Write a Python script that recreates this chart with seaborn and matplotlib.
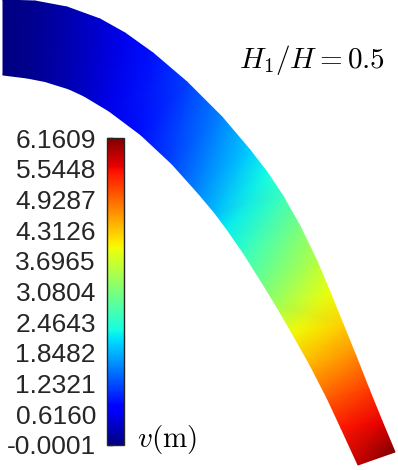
import numpy as np
import matplotlib
matplotlib.use("Agg")
import matplotlib.pyplot as plt
import seaborn as sns

# deformed curved beam, outer and inner edge nodes (plot units, y down)
outer_x = [3, 35, 67, 100, 125, 153, 187, 222, 250, 267, 283, 300, 317, 330, 343, 356, 369, 382, 395]
outer_y = [0, 1, 7, 19, 33, 53, 82, 117, 150, 172, 196, 226, 261, 292, 324, 356, 389, 421, 452]
inner_x = [3, 27, 45, 69, 84, 109, 141, 172, 198, 214, 226, 243, 261, 276, 292, 310, 327, 341, 358]
inner_y = [75, 78, 81.5, 89, 96, 111, 135, 164, 193, 212, 228, 252.5, 281, 305.5, 333, 365, 398, 428, 465]

# vertical displacement v (m) at the nodes
v_outer = [0.00, 0.10, 0.25, 0.45, 0.62, 0.88, 1.15, 1.58, 2.00, 2.30, 2.60, 3.08,
           3.50, 3.90, 4.25, 4.70, 5.20, 5.60, 6.16]
v_inner = [0.00, 0.08, 0.15, 0.28, 0.38, 0.60, 0.85, 1.20, 1.60, 1.90, 2.20, 2.55,
           2.95, 3.35, 3.95, 4.45, 5.00, 5.45, 5.80]

v_min, v_max = -0.0001, 6.1609
cbar_ticks = [-0.0001, 0.6160, 1.2321, 1.8482, 2.4643, 3.0804, 3.6965, 4.3126, 4.9287, 5.5448, 6.1609]
cbar_labels = ["-0.0001", "0.6160", "1.2321", "1.8482", "2.4643", "3.0804",
               "3.6965", "4.3126", "4.9287", "5.5448", "6.1609"]

sns.set_theme(style="white")
plt.rcParams["font.family"] = ["Liberation Sans", "DejaVu Sans"]
plt.rcParams["mathtext.fontset"] = "cm"

fig = plt.figure(figsize=(3.98, 4.70), dpi=100)
ax = fig.add_axes([0, 0, 1, 1])
ax.set_xlim(0, 398)
ax.set_ylim(470, 0)
ax.set_aspect("equal")
ax.axis("off")

X = np.array([inner_x, outer_x])
Y = np.array([inner_y, outer_y])
C = np.array([v_inner, v_outer])
mesh = ax.pcolormesh(X, Y, C, shading="gouraud", cmap="jet", vmin=v_min, vmax=v_max)

ax.text(385, 60, r"$H_1/H=0.5$", ha="right", va="center", fontsize=21, color="black")
ax.text(137, 440, r"$v(\mathrm{m})$", ha="left", va="center", fontsize=21, color="black")

# colorbar on the left side of the figure
cax = fig.add_axes([107 / 398, (470 - 445) / 470, 17 / 398, 307 / 470])
cb = fig.colorbar(mesh, cax=cax, ticks=cbar_ticks)
cb.outline.set_linewidth(1.0)
cb.outline.set_edgecolor("#262626")
cax.yaxis.set_ticks_position("left")
cax.yaxis.set_label_position("left")
cax.set_yticklabels(cbar_labels)
cax.tick_params(axis="y", direction="in", length=4, width=1, color="#262626",
                labelsize=19, labelcolor="#262626", pad=8)

plt.savefig("out.png", dpi=100)
